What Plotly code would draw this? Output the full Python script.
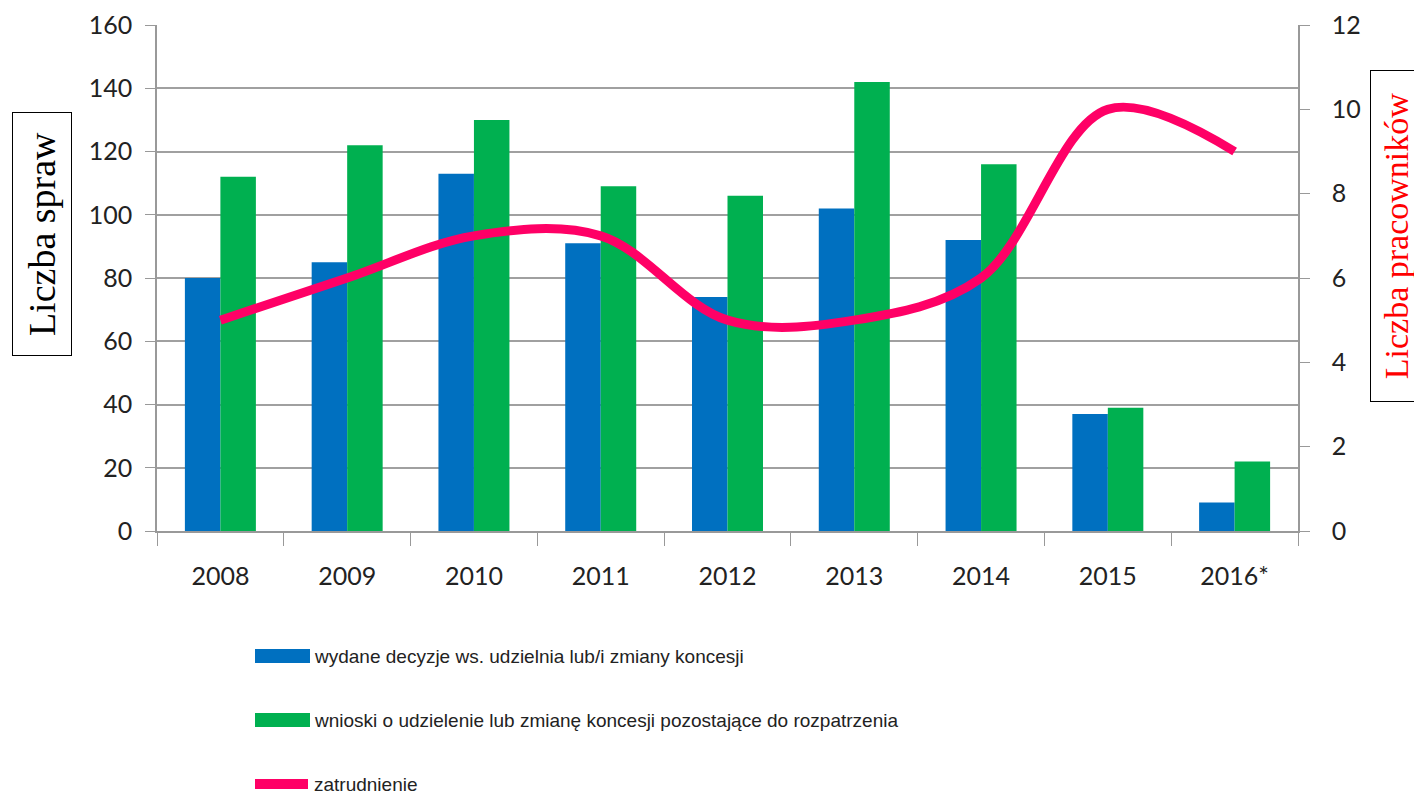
import plotly.graph_objects as go

years = ["2008", "2009", "2010", "2011", "2012", "2013", "2014", "2015", "2016*"]
decyzje = [80, 85, 113, 91, 74, 102, 92, 37, 9]
wnioski = [112, 122, 130, 109, 106, 142, 116, 39, 22]
zatrudnienie = [5, 6, 7, 7, 5, 5, 6, 10, 9]

name_blue = "wydane decyzje ws. udzielnia lub/i zmiany koncesji"
name_green = "wnioski o udzielenie lub zmianę koncesji pozostające do rozpatrzenia"
name_line = "zatrudnienie"

BLUE = "#0070C0"
GREEN = "#00B050"
PINK = "#FF0066"

# page offset (body margin of the html page)
OFF = 8
W, H = 1422, 795
# target plot area in page pixels: x 157..1298, y 25..531
L = 157 - OFF
T = 25 - OFF
R = W - (1298 - OFF)
B = H - (531 - OFF)
PW, PH = W - L - R, H - T - B


def px(x):
    return (x - OFF - L) / PW


def py(y):
    return (H - B - (y - OFF)) / PH


fig = go.Figure()
fig.add_trace(go.Bar(x=years, y=decyzje, name=name_blue, marker_color=BLUE,
                     marker_line_width=0))
fig.add_trace(go.Bar(x=years, y=wnioski, name=name_green, marker_color=GREEN,
                     marker_line_width=0))
fig.add_trace(go.Scatter(x=years, y=zatrudnienie, name=name_line, yaxis="y2",
                         mode="lines", line=dict(color=PINK, width=9, shape="spline", smoothing=1.0)))

tickfont = dict(family="Lato, Open Sans, sans-serif", size=25, color="#222222")
legfont = dict(family="Liberation Sans, Arial, sans-serif", size=19, color="#222222")

# manual legend (wide swatches like the original)
legend_items = [(name_blue, BLUE, "bar", 656), (name_green, GREEN, "bar", 720), (name_line, PINK, "line", 784)]
shapes = []
annotations = []
for text, col, kind, yc in legend_items:
    if kind == "bar":
        shapes.append(dict(type="rect", xref="paper", yref="paper",
                           x0=px(255), x1=px(310), y0=py(yc - 7), y1=py(yc + 7),
                           fillcolor=col, line=dict(width=0), layer="above"))
    else:
        shapes.append(dict(type="line", xref="paper", yref="paper",
                           x0=px(255), x1=px(308), y0=py(yc), y1=py(yc),
                           line=dict(color=col, width=10), layer="above"))
    annotations.append(dict(text=text, xref="paper", yref="paper", x=px(312), y=py(yc),
                            xanchor="left", yanchor="middle", showarrow=False, font=legfont))

annotations.append(dict(text="Liczba spraw", textangle=-90, xref="paper", yref="paper",
                        x=px(42), y=py(234), xanchor="center", yanchor="middle", showarrow=False,
                        font=dict(family="Liberation Serif, Times New Roman, serif", size=38, color="black"),
                        width=238, height=54, borderpad=2,
                        bordercolor="black", borderwidth=1, bgcolor="white"))
annotations.append(dict(text="Liczba pracowników", textangle=-90, xref="paper", yref="paper",
                        x=px(1396), y=py(236), xanchor="center", yanchor="middle", showarrow=False,
                        font=dict(family="Liberation Serif, Times New Roman, serif", size=34, color="#FF0000"),
                        width=326, height=46, borderpad=2,
                        bordercolor="black", borderwidth=1, bgcolor="white"))

fig.update_layout(
    width=W, height=H,
    margin=dict(l=L, r=R, t=T, b=B, autoexpand=False),
    paper_bgcolor="white", plot_bgcolor="white",
    barmode="group", bargap=0.44, bargroupgap=0,
    showlegend=False,
    xaxis=dict(type="category", tickfont=tickfont, showgrid=False,
               showline=True, linecolor="#999999", linewidth=1.5,
               ticks="outside", ticklen=13, tickcolor="#999999", tickson="boundaries",
               ticklabelstandoff=22),
    yaxis=dict(range=[0, 160], dtick=20, tickfont=tickfont, showgrid=True,
               gridcolor="#A0A0A0", gridwidth=1.5, showline=True, linecolor="#999999", linewidth=1.5,
               ticks="outside", ticklen=10, tickcolor="#999999", zeroline=False, ticklabelstandoff=8),
    yaxis2=dict(range=[0, 12], dtick=2, overlaying="y", side="right", tickfont=tickfont,
                showgrid=False, showline=True, linecolor="#999999", linewidth=1.5,
                ticks="outside", ticklen=10, tickcolor="#999999", zeroline=False, ticklabelstandoff=17),
    shapes=shapes,
    annotations=annotations,
)

fig.write_html("out.html")
